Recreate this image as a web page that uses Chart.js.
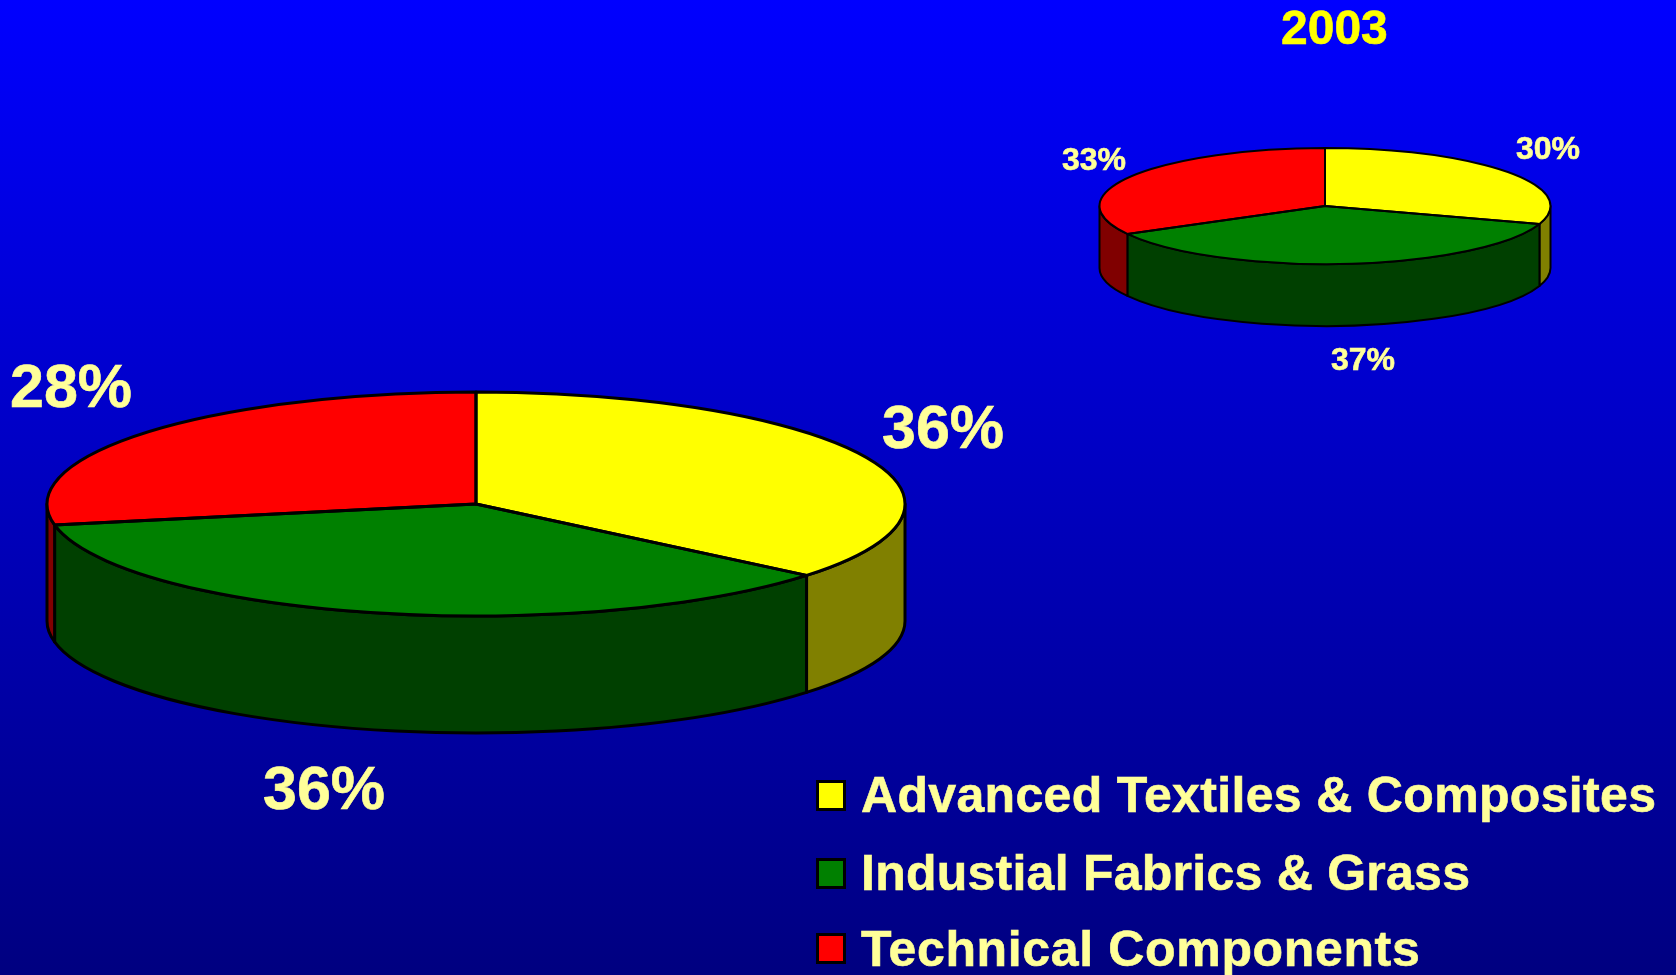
<!DOCTYPE html>
<html>
<head>
<meta charset="utf-8">
<script src="https://cdn.jsdelivr.net/npm/chart.js@4"></script>
<style>
html,body{margin:0;padding:0;width:1676px;height:975px;overflow:hidden;background:linear-gradient(#0000ff,#000080);}
canvas{position:absolute;}
.t{position:absolute;font-family:"Liberation Sans",Arial,sans-serif;font-weight:bold;color:#ffff99;line-height:1;white-space:pre;-webkit-text-stroke:0.6px currentColor;}
.sw{position:absolute;box-sizing:border-box;width:30px;height:31px;border:3px solid #000;}
</style>
</head>
<body>
<canvas id="big" width="880" height="608" style="left:36px;top:200px"></canvas>
<canvas id="small" width="472" height="412" style="left:1089px;top:0px"></canvas>
<script>
// Data
const categories = ["Advanced Textiles & Composites", "Industial Fabrics & Grass", "Technical Components"];
const valuesLarge = [36, 36, 28];
const values2003 = [30, 37, 33];
const smallTitle = "2003";

// Styles
const topColors = ["#ffff00", "#008000", "#ff0000"];
const wallColors = ["#808000", "#004000", "#800000"];

// The pie is drawn by Chart.js, squashed into an ellipse; the wall is built from its arc elements.
const tilt3d = {
  id: "tilt3d",
  beforeDatasetsDraw(chart, args, o) {
    const ctx = chart.ctx, arcs = chart.getDatasetMeta(0).data;
    const { x: cx, y: cy, outerRadius: rx } = arcs[0];
    const ry = rx * o.squash;
    ctx.save();
    ctx.lineJoin = "round";
    ctx.lineWidth = o.line;
    ctx.strokeStyle = "#000";
    const TAU = Math.PI * 2;
    arcs.forEach((arc, i) => {
      [0, TAU].forEach(shift => {
        const a = Math.max(arc.startAngle + shift, 0);
        const b = Math.min(arc.endAngle + shift, Math.PI);
        if (b <= a) return;
        ctx.beginPath();
        ctx.ellipse(cx, cy, rx, ry, 0, a, b);
        ctx.ellipse(cx, cy + o.depth, rx, ry, 0, b, a, true);
        ctx.closePath();
        ctx.fillStyle = wallColors[i];
        ctx.fill();
        ctx.stroke();
      });
    });
    ctx.restore();
    ctx.save();
    ctx.translate(cx, cy);
    ctx.scale(1, o.squash);
    ctx.translate(-cx, -cy);
  },
  afterDatasetsDraw(chart, args, o) {
    const ctx = chart.ctx, arcs = chart.getDatasetMeta(0).data;
    ctx.restore();
    const { x: cx, y: cy, outerRadius: rx } = arcs[0];
    const ry = rx * o.squash;
    ctx.save();
    ctx.lineJoin = "round";
    ctx.lineWidth = o.line;
    ctx.strokeStyle = "#000";
    arcs.forEach(arc => {
      ctx.beginPath();
      ctx.moveTo(cx, cy);
      ctx.ellipse(cx, cy, rx, ry, 0, arc.startAngle, arc.endAngle);
      ctx.closePath();
      ctx.stroke();
    });
    ctx.restore();
  }
};

function makePie(id, values, radius, squash, depth, line) {
  return new Chart(document.getElementById(id), {
    type: "pie",
    data: {
      labels: categories,
      datasets: [{ data: values, backgroundColor: topColors, borderWidth: 0 }]
    },
    options: {
      responsive: false,
      animation: false,
      radius: radius,
      layout: { padding: 0 },
      events: [],
      plugins: {
        legend: { display: false },
        tooltip: { enabled: false },
        tilt3d: { squash, depth, line }
      }
    },
    plugins: [tilt3d]
  });
}
makePie("big", valuesLarge, 429, 112 / 429, 117, 3);
makePie("small", values2003, 225.5, 58 / 225.5, 62, 2);

// Text placement: left edge and baseline
function text(str, x, base, size, color, spacing) {
  const d = document.createElement("div");
  d.className = "t";
  d.textContent = str;
  d.style.left = x + "px";
  d.style.top = (base - 0.8465 * size) + "px";
  d.style.fontSize = size + "px";
  if (color) d.style.color = color;
  if (spacing) d.style.letterSpacing = spacing + "px";
  document.body.appendChild(d);
}
text(smallTitle, 1281, 45, 48, "#ffff00");
[[1516, 159], [1331, 370], [1062, 170]].forEach((p, i) => text(values2003[i] + "%", p[0], p[1], 32));
[[882, 449], [263, 810], [10, 408]].forEach((p, i) => text(valuesLarge[i] + "%", p[0], p[1], 61));

[[780, 812, 0.33], [858, 890, 0.25], [933, 966, 0.65]].forEach((p, i) => {
  const s = document.createElement("div");
  s.className = "sw";
  s.style.left = "816px";
  s.style.top = p[0] + "px";
  s.style.background = topColors[i];
  document.body.appendChild(s);
  text(categories[i], 861, p[1], 50, null, p[2]);
});
</script>
</body>
</html>
